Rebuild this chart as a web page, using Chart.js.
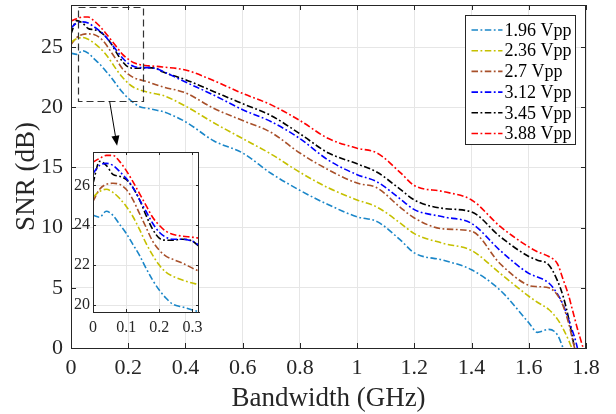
<!DOCTYPE html>
<html>
<head>
<meta charset="utf-8">
<script src="https://cdn.jsdelivr.net/npm/chart.js@4/dist/chart.umd.min.js"></script>
<style>
html, body { margin: 0; padding: 0; background: #fff; }
#wrap { position: relative; width: 616px; height: 414px; }
#main { position: absolute; left: 0; top: 0; width: 616px; height: 414px; }
#inset { position: absolute; left: 60px; top: 145px; width: 150px; height: 200px; }
</style>
</head>
<body>
<div id="wrap">
  <canvas id="main" width="616" height="414"></canvas>
  <canvas id="inset" width="150" height="200"></canvas>
</div>
<script>
// bandwidth (GHz) sample points shared by all series
var bandwidth = [0, 0.02, 0.04, 0.06, 0.08, 0.10, 0.12, 0.14, 0.16, 0.18,
  0.20, 0.22, 0.24, 0.27, 0.30, 0.32, 0.40, 0.50, 0.60, 0.70,
  0.80, 0.90, 1.00, 1.07, 1.15, 1.20, 1.30, 1.40, 1.50, 1.60,
  1.63, 1.67, 1.70, 1.72, 1.74, 1.75, 1.76, 1.77, 1.78, 1.79];

// SNR (dB) per drive amplitude
var snr196 = [24.5, 24.4, 24.7, 24.5, 24.05, 23.6, 23.05, 22.5, 21.85, 21.25,
  20.75, 20.35, 20.05, 19.9, 19.75, 19.65, 18.8, 17.2, 16.2, 14.5,
  13.1, 11.9, 10.9, 10.5, 9.0, 7.9, 7.3, 6.5, 4.8, 2.1,
  1.3, 1.55, 1.1, 0, null, null, null, null, null, null];
var snr236 = [25.4, 25.7, 25.8, 25.65, 25.35, 24.95, 24.45, 23.8, 23.1, 22.5,
  22.0, 21.65, 21.45, 21.25, 21.1, 21.0, 20.1, 18.7, 17.4, 16.1,
  14.6, 13.3, 12.3, 11.7, 10.4, 9.5, 8.7, 8.1, 6.2, 4.3,
  3.8, 3.2, 2.4, 1.6, 0.6, 0, null, null, null, null];
var snr27 = [25.2, 25.8, 26.05, 26.1, 26.05, 25.8, 25.3, 24.6, 23.9, 23.2,
  22.75, 22.45, 22.3, 22.1, 21.85, 21.7, 21.2, 19.9, 18.9, 17.9,
  16.2, 14.8, 13.7, 13.3, 11.7, 10.8, 9.9, 9.7, 7.0, 5.2,
  5.1, 5.0, 4.4, 3.5, 2.0, 1.0, 0, null, null, null];
var snr312 = [26.6, 27.0, 27.1, 27.0, 26.7, 26.35, 25.9, 25.3, 24.7, 24.1,
  23.65, 23.4, 23.3, 23.3, 23.2, 23.0, 22.1, 21.0, 19.8, 18.8,
  17.4, 15.6, 14.4, 13.8, 12.4, 11.5, 10.9, 10.35, 8.1, 6.2,
  5.9, 5.4, 4.5, 3.6, 2.3, 1.6, 0.9, 0, null, null];
var snr345 = [26.1, 27.2, 27.0, 26.55, 26.45, 26.3, 25.9, 25.3, 24.5, 23.8,
  23.35, 23.25, 23.25, 23.3, 23.2, 22.95, 22.3, 21.3, 20.3, 19.3,
  17.8, 16.2, 15.3, 14.6, 13.2, 12.3, 11.6, 11.3, 9.25, 7.6,
  7.3, 6.9, 5.6, 4.3, 2.4, 1.2, 0, null, null, null];
var snr388 = [27.16, 27.35, 27.5, 27.5, 27.2, 26.75, 26.2, 25.6, 25.0, 24.4,
  24.0, 23.7, 23.55, 23.45, 23.4, 23.35, 23.1, 22.2, 21.15, 20.2,
  18.9, 17.4, 16.6, 16.2, 14.6, 13.5, 13.0, 12.3, 10.1, 8.4,
  8.0, 7.6, 7.0, 5.7, 4.3, 3.4, 2.5, 1.6, 0.8, 0];

var seriesLabels = ['1.96 Vpp', '2.36 Vpp', '2.7 Vpp', '3.12 Vpp', '3.45 Vpp', '3.88 Vpp'];
var seriesData = [snr196, snr236, snr27, snr312, snr345, snr388];
var seriesColors = ['#1a86c8', '#c5c000', '#a8502a', '#0000ff', '#000000', '#ff0000'];

// main axis ticks
var xTicks = [0, 0.2, 0.4, 0.6, 0.8, 1, 1.2, 1.4, 1.6, 1.8];
var yTicks = [0, 5, 10, 15, 20, 25];
// inset axis ticks
var insetXTicks = [0, 0.1, 0.2, 0.3];
var insetYTicks = [20, 22, 24, 26];

// zoomed region marked on the main plot (data units)
var zoomBox = { x0: 0.025, x1: 0.252, y0: 20.5, y1: 28.3 };
var arrowFrom = [0.135, 20.5];
var arrowTo = [0.161, 16.8];

var dash = [6.5, 2.5, 1.8, 2.5];
var serif = 'Liberation Serif';
var axisColor = '#262626';
var gridColor = '#e6e6e6';

function makeDatasets() {
  return seriesData.map(function (s, i) {
    var pts = [];
    s.forEach(function (v, j) { if (v !== null) pts.push({ x: bandwidth[j], y: v }); });
    return {
      label: seriesLabels[i],
      data: pts,
      borderColor: seriesColors[i],
      borderWidth: 1.6,
      borderDash: dash,
      pointRadius: 0,
      cubicInterpolationMode: 'monotone',
      fill: false
    };
  });
}

function keepTicks(list) {
  return function (scale) {
    scale.ticks = list.map(function (v) { return { value: v }; });
  };
}

// fixed axis band size, no extra padding for edge labels
function fixSize(prop, size) {
  return function (s) {
    s[prop] = size;
    s.paddingTop = 0; s.paddingBottom = 0;
    s.paddingLeft = 0; s.paddingRight = 0;
  };
}

function fmt(v) { return String(+(+v).toFixed(2)); }

// white background, full box and inward tick marks like the original figure
var frame = {
  id: 'frame',
  beforeDraw: function (chart, args, opts) {
    var ctx = chart.ctx, a = chart.chartArea;
    ctx.save();
    ctx.fillStyle = '#fff';
    if (opts.whole) ctx.fillRect(0, 0, chart.width, chart.height);
    else ctx.fillRect(a.left, a.top, a.right - a.left, a.bottom - a.top);
    ctx.restore();
  },
  afterDraw: function (chart, args, opts) {
    var ctx = chart.ctx, a = chart.chartArea;
    var xs = chart.scales.x, ys = chart.scales.y, L = opts.tick;
    ctx.save();
    ctx.strokeStyle = axisColor;
    ctx.lineWidth = 1;
    ctx.strokeRect(a.left + 0.5, a.top + 0.5, a.right - a.left - 1, a.bottom - a.top);
    ctx.beginPath();
    xs.ticks.forEach(function (t) {
      var px = Math.round(xs.getPixelForValue(t.value)) + 0.5;
      ctx.moveTo(px, a.bottom); ctx.lineTo(px, a.bottom - L);
      ctx.moveTo(px, a.top); ctx.lineTo(px, a.top + L);
    });
    ys.ticks.forEach(function (t) {
      var py = Math.round(ys.getPixelForValue(t.value)) + 0.5;
      ctx.moveTo(a.left, py); ctx.lineTo(a.left + L, py);
      ctx.moveTo(a.right, py); ctx.lineTo(a.right - L, py);
    });
    ctx.stroke();
    ctx.restore();
  }
};

// dashed zoom box, arrow and legend on the main plot
var extras = {
  id: 'extras',
  afterDraw: function (chart) {
    var ctx = chart.ctx, xs = chart.scales.x, ys = chart.scales.y;
    ctx.save();
    // zoom box
    var x0 = Math.round(xs.getPixelForValue(zoomBox.x0)) + 0.5;
    var x1 = Math.round(xs.getPixelForValue(zoomBox.x1)) + 0.5;
    var y0 = Math.round(ys.getPixelForValue(zoomBox.y1)) + 0.5;
    var y1 = Math.round(ys.getPixelForValue(zoomBox.y0)) + 0.5;
    ctx.strokeStyle = '#333';
    ctx.lineWidth = 1.2;
    ctx.setLineDash([7, 4]);
    ctx.strokeRect(x0, y0, x1 - x0, y1 - y0);
    ctx.setLineDash([]);
    // arrow
    var ax = xs.getPixelForValue(arrowFrom[0]), ay = ys.getPixelForValue(arrowFrom[1]);
    var bx = xs.getPixelForValue(arrowTo[0]), by = ys.getPixelForValue(arrowTo[1]);
    var ang = Math.atan2(by - ay, bx - ax), h = 10, w = 4;
    ctx.strokeStyle = '#000';
    ctx.lineWidth = 1;
    ctx.beginPath();
    ctx.moveTo(ax, ay);
    ctx.lineTo(bx - h * Math.cos(ang), by - h * Math.sin(ang));
    ctx.stroke();
    ctx.fillStyle = '#000';
    ctx.beginPath();
    ctx.moveTo(bx, by);
    ctx.lineTo(bx - h * Math.cos(ang) + w * Math.sin(ang), by - h * Math.sin(ang) - w * Math.cos(ang));
    ctx.lineTo(bx - h * Math.cos(ang) - w * Math.sin(ang), by - h * Math.sin(ang) + w * Math.cos(ang));
    ctx.closePath();
    ctx.fill();
    // legend
    var lx = 465.5, ly = 15.5, lw = 110, lh = 129;
    ctx.fillStyle = '#fff';
    ctx.fillRect(lx, ly, lw, lh);
    ctx.strokeStyle = axisColor;
    ctx.strokeRect(lx, ly, lw, lh);
    ctx.font = '18px "' + serif + '"';
    ctx.textBaseline = 'middle';
    chart.data.datasets.forEach(function (ds, i) {
      var cy = ly + 14.5 + i * 20.7;
      ctx.strokeStyle = ds.borderColor;
      ctx.lineWidth = 1.6;
      ctx.setLineDash(dash);
      ctx.beginPath();
      ctx.moveTo(lx + 6, cy);
      ctx.lineTo(lx + 37, cy);
      ctx.stroke();
      ctx.setLineDash([]);
      ctx.fillStyle = '#000';
      ctx.fillText(ds.label, lx + 39, cy + 1);
    });
    ctx.restore();
  }
};

var mainChart = new Chart(document.getElementById('main'), {
  type: 'line',
  data: { datasets: makeDatasets() },
  options: {
    responsive: false,
    animation: false,
    events: [],
    layout: { padding: { top: 5, right: 30, left: 0, bottom: 0 } },
    plugins: {
      legend: { display: false },
      tooltip: { enabled: false },
      frame: { whole: true, tick: 5 }
    },
    scales: {
      x: {
        type: 'linear', min: 0, max: 1.8,
        afterBuildTicks: keepTicks(xTicks),
        afterFit: fixSize('height', 66),
        ticks: { color: axisColor, font: { family: serif, size: 22 }, padding: 7, maxRotation: 0, callback: fmt },
        grid: { color: gridColor, drawTicks: false },
        border: { color: axisColor },
        title: { display: true, text: 'Bandwidth (GHz)', color: axisColor,
          font: { family: serif, size: 27 }, padding: { top: 0, bottom: -1 } }
      },
      y: {
        type: 'linear', min: 0, max: 28.5,
        afterBuildTicks: keepTicks(yTicks),
        afterFit: fixSize('width', 71),
        ticks: { color: axisColor, font: { family: serif, size: 22 }, padding: 8, callback: fmt },
        grid: { color: gridColor, drawTicks: false },
        border: { color: axisColor },
        title: { display: true, text: 'SNR (dB)', color: axisColor,
          font: { family: serif, size: 27 }, padding: { top: 11, bottom: 0 } }
      }
    }
  },
  plugins: [frame, extras]
});

var insetChart = new Chart(document.getElementById('inset'), {
  type: 'line',
  data: { datasets: makeDatasets() },
  options: {
    responsive: false,
    animation: false,
    events: [],
    layout: { padding: { top: 7, right: 11, left: 0, bottom: 0 } },
    plugins: {
      legend: { display: false },
      tooltip: { enabled: false },
      frame: { whole: false, tick: 3 }
    },
    scales: {
      x: {
        type: 'linear', min: 0, max: 0.32,
        afterBuildTicks: keepTicks(insetXTicks),
        afterFit: fixSize('height', 33),
        ticks: { color: axisColor, font: { family: serif, size: 16 }, padding: 6, maxRotation: 0, callback: fmt },
        grid: { color: gridColor, drawTicks: false },
        border: { color: axisColor }
      },
      y: {
        type: 'linear', min: 19.65, max: 27.67,
        afterBuildTicks: keepTicks(insetYTicks),
        afterFit: fixSize('width', 33),
        ticks: { color: axisColor, font: { family: serif, size: 16 }, padding: 3, callback: fmt },
        grid: { color: gridColor, drawTicks: false },
        border: { color: axisColor }
      }
    }
  },
  plugins: [frame]
});
</script>
</body>
</html>
